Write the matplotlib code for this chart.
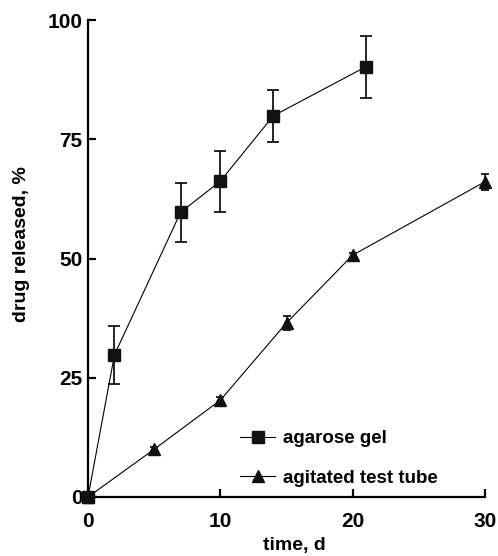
import numpy as np
import matplotlib
matplotlib.use("Agg")
from matplotlib import pyplot as plt

# agarose gel release (mean and error)
gel_t = [0, 2, 7, 10, 14, 21]
gel_y = [0, 29.8, 59.7, 66.2, 79.9, 90.2]
gel_err = [0, 6.1, 6.2, 6.4, 5.4, 6.5]

# agitated test tube release
tube_t = [0, 5, 10, 15, 20, 30]
tube_y = [0, 10.0, 20.3, 36.5, 50.7, 66.1]
tube_err = [0, 0.4, 0.6, 1.5, 0.5, 1.7]

x_ticks = [0, 10, 20, 30]
y_ticks = [0, 25, 50, 75, 100]

plt.rcParams["font.family"] = ["Liberation Sans", "DejaVu Sans"]
plt.rcParams["font.weight"] = "bold"

fig = plt.figure(figsize=(4.98, 5.56), dpi=100)
ax = fig.add_axes([88 / 498, 59 / 556, 397 / 498, 477 / 556])

ax.errorbar(gel_t, gel_y, yerr=gel_err, color="black", lw=0.8, marker="s",
            ms=8.5, mfc="#111111", mec="#111111", ecolor="black",
            elinewidth=1.2, capsize=4, capthick=1.2, label="agarose gel",
            clip_on=False, zorder=3)
ax.errorbar(tube_t, tube_y, yerr=tube_err, color="black", lw=0.8, marker="^",
            ms=9, mfc="#111111", mec="#111111", ecolor="black",
            elinewidth=1.2, capsize=3, capthick=1.2,
            label="agitated test tube", clip_on=False, zorder=3)

ax.set_xlim(0, 30)
ax.set_ylim(0, 100)
ax.set_xticks(x_ticks)
ax.set_yticks(y_ticks)
for s in ["top", "right"]:
    ax.spines[s].set_visible(False)
for s in ["left", "bottom"]:
    ax.spines[s].set_linewidth(1.6)
ax.tick_params(direction="in", length=6, width=1.6, labelsize=15, pad=4)
ax.tick_params(axis="x", pad=11)

ax.set_xlabel("time, d", fontsize=14, fontweight="bold")
ax.set_ylabel("drug released, %", fontsize=14, fontweight="bold")
ax.xaxis.set_label_coords(0.52, -0.084)
ax.yaxis.set_label_coords(-0.145, 0.53)

handles, labels = ax.get_legend_handles_labels()
handles = [h[0] for h in handles]
ax.legend(handles, labels, loc="center left", bbox_to_anchor=(0.34, 0.081),
          frameon=False, handlelength=1.9, handletextpad=0.4,
          labelspacing=1.2, prop={"weight": "bold", "size": 13.5})

fig.savefig("out.png", dpi=100)
